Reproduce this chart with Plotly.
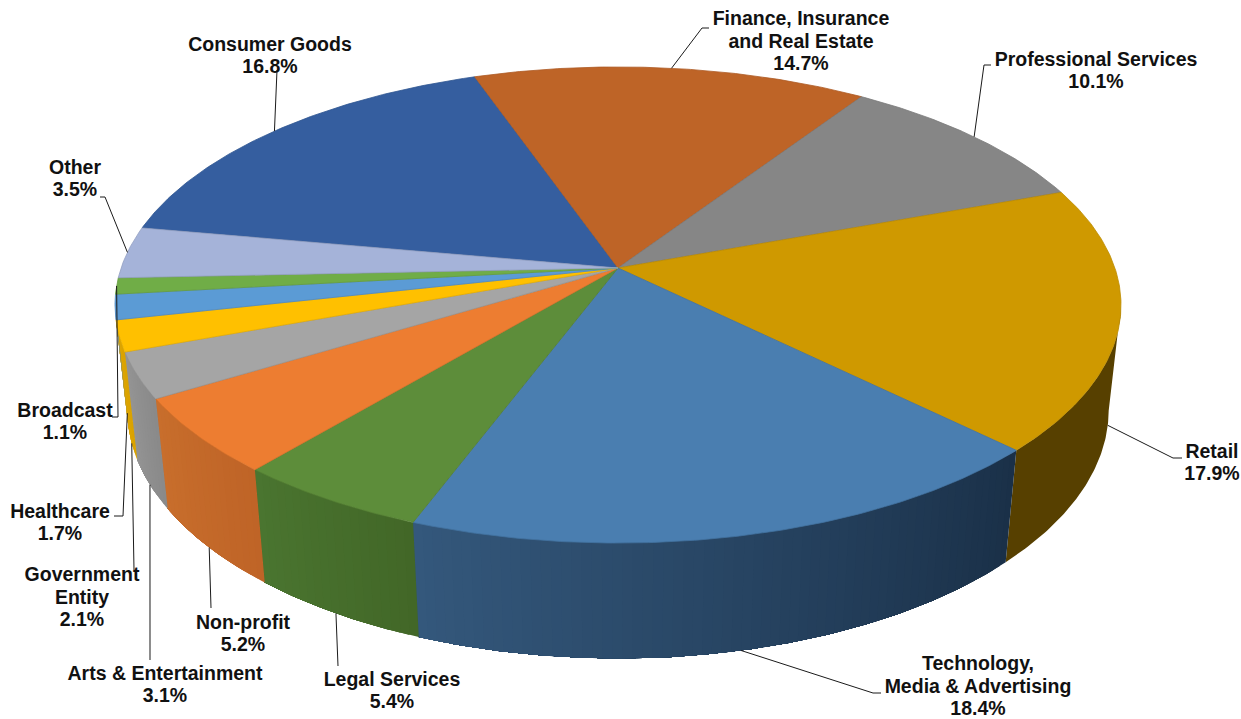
import math
import plotly.graph_objects as go

# Slices in clockwise order, beginning at the start angle
categories = ["Consumer Goods", "Finance, Insurance<br>and Real Estate", "Professional Services",
              "Retail", "Technology,<br>Media & Advertising", "Legal Services", "Non-profit",
              "Arts & Entertainment", "Government<br>Entity", "Healthcare", "Broadcast", "Other"]
values = [16.8, 14.7, 10.1, 17.9, 18.4, 5.4, 5.2, 3.1, 2.1, 1.7, 1.1, 3.5]

# Styling per slice: top face, wall colour at the slice's left and right ends
top_colors = ["#355E9F", "#BE6427", "#868686", "#CF9900", "#4A7EB0", "#5D8D3A",
              "#ED7D31", "#A5A5A5", "#FFC000", "#5B9BD5", "#70AD47", "#A5B3D9"]
wall_right = ["#355E9F", "#BE6427", "#868686", "#574000", "#1A3048", "#426727",
              "#BF6427", "#8A8A8A", "#D9A300", "#4F86B8", "#5F9339", "#8C99BA"]
wall_left = ["#355E9F", "#BE6427", "#868686", "#574000", "#34587C", "#4A7530",
             "#C86E2C", "#949494", "#E0A500", "#4F86B8", "#5F9339", "#8C99BA"]
edge_colors = ["#2F5690", "#AD5B24", "#7A7A7A", "#BC8B00", "#43729F", "#547F34",
               "#D77129", "#959595", "#E6AD00", "#5289BD", "#659C40", "#939FC2"]

# Projection of the tilted disc onto the page (pixel units)
CX, CY = 618.0, 268.0
SCALE_X, SCALE_Y = 496.9, 232.3
TILT, SINK = 0.1554, 0.0245
DEPTH = 107.0
START_DEG = 280.2
WALL_FROM, WALL_TO = 98.9, 261.1


def project(deg, level=0.0):
    """Clockwise-from-up angle on the rim; level 0 is the top face, 1 the lower rim."""
    t = math.radians(deg)
    x, y = math.sin(t), math.cos(t)
    w = 1 + TILT * y + SINK * level
    return CX + SCALE_X * x / w, CY + (-SCALE_Y * y + DEPTH * level) / w


def mix(a, b, f):
    pa = [int(a[i:i + 2], 16) for i in (1, 3, 5)]
    pb = [int(b[i:i + 2], 16) for i in (1, 3, 5)]
    return "#%02x%02x%02x" % tuple(round(p + (q - p) * f) for p, q in zip(pa, pb))


total = sum(values)
bounds = [START_DEG]
for v in values:
    bounds.append(bounds[-1] + v / total * 360)

fig = go.Figure()


def polygon(pts, fill, line=None, width=0.0):
    fig.add_trace(go.Scatter(x=[p[0] for p in pts] + [pts[0][0]],
                             y=[p[1] for p in pts] + [pts[0][1]],
                             mode="lines", fill="toself", fillcolor=fill,
                             line=dict(color=line or fill, width=width),
                             hoverinfo="skip", showlegend=False))


# Outer walls: each band runs to the end of its slice and is painted over by the
# next one, so the shading steps leave no seams between them
for i in range(len(values)):
    a0 = bounds[i] % 360
    a1 = a0 + values[i] / total * 360
    lo, hi = max(a0, WALL_FROM), min(a1, WALL_TO)
    if hi <= lo:
        continue
    same = wall_left[i] == wall_right[i]
    n = 1 if same else max(2, int((hi - lo) / 1.0))
    for k in range(n):
        s0 = lo + (hi - lo) * k / n
        steps = max(2, int((hi - s0) * 2))
        arc = [s0 + (hi - s0) * j / steps for j in range(steps + 1)]
        pts = [project(a) for a in arc] + [project(a, 1) for a in reversed(arc)]
        polygon(pts, mix(wall_right[i], wall_left[i], (k + 0.5) / n))

# Top faces
for i in range(len(values)):
    a0, a1 = bounds[i], bounds[i + 1]
    n = max(4, int(a1 - a0) * 2)
    arc = [project(a0 + (a1 - a0) * k / n) for k in range(n + 1)]
    polygon([(CX, CY)] + arc, top_colors[i], edge_colors[i], 0.8)

# Leader lines: (rim level of the anchor, path from the anchor to the label)
leader_paths = [
    (0, [(277, 70)]),
    (0, [(702, 28), (709, 28)]),
    (0, [(984, 65), (991, 65)]),
    (1, [(1173, 458), (1182, 458)]),
    (1, [(873, 693), (881, 693)]),
    (1, [(338, 666)]),
    (1, [(211, 608)]),
    (1, [(150, 660)]),
    (1, [(134, 570)]),
    (1, [(123, 516), (114, 516)]),
    (0, [(118, 417), (112, 417)]),
    (0, [(105, 197), (100, 197)]),
]
for i, (level, path) in enumerate(leader_paths):
    start = project((bounds[i] + bounds[i + 1]) / 2, level)
    fig.add_trace(go.Scatter(x=[start[0]] + [p[0] for p in path],
                             y=[start[1]] + [p[1] for p in path],
                             mode="lines", line=dict(color="#1a1a1a", width=1),
                             hoverinfo="skip", showlegend=False))

# Data labels: centre of each text block, set line by line at a tight leading
label_centers = [(270, 57), (801, 43), (1096, 72), (1212, 464), (978, 688), (392, 692),
                 (243, 635), (165, 686), (82, 599), (60, 524), (65, 423), (75, 180)]
LEADING = 22.6
text_x, text_y, text_s = [], [], []
for name, v, (lx, ly) in zip(categories, values, label_centers):
    lines = name.split("<br>") + [f"{v}%"]
    for j, line in enumerate(lines):
        text_x.append(lx)
        text_y.append(ly + (j - (len(lines) - 1) / 2) * LEADING)
        text_s.append(line)
fig.add_trace(go.Scatter(x=text_x, y=text_y, text=text_s, mode="text",
                         textposition="middle center", cliponaxis=False,
                         textfont=dict(family="Liberation Sans", size=19.5,
                                       color="#111111", weight="bold"),
                         hoverinfo="skip", showlegend=False))

fig.update_layout(width=1241, height=719, margin=dict(l=0, r=0, t=0, b=0),
                  paper_bgcolor="white", plot_bgcolor="white", showlegend=False,
                  xaxis=dict(visible=False, range=[0, 1241], fixedrange=True),
                  yaxis=dict(visible=False, range=[719, 0], fixedrange=True))
fig.write_html("out.html", config={"displayModeBar": False})
